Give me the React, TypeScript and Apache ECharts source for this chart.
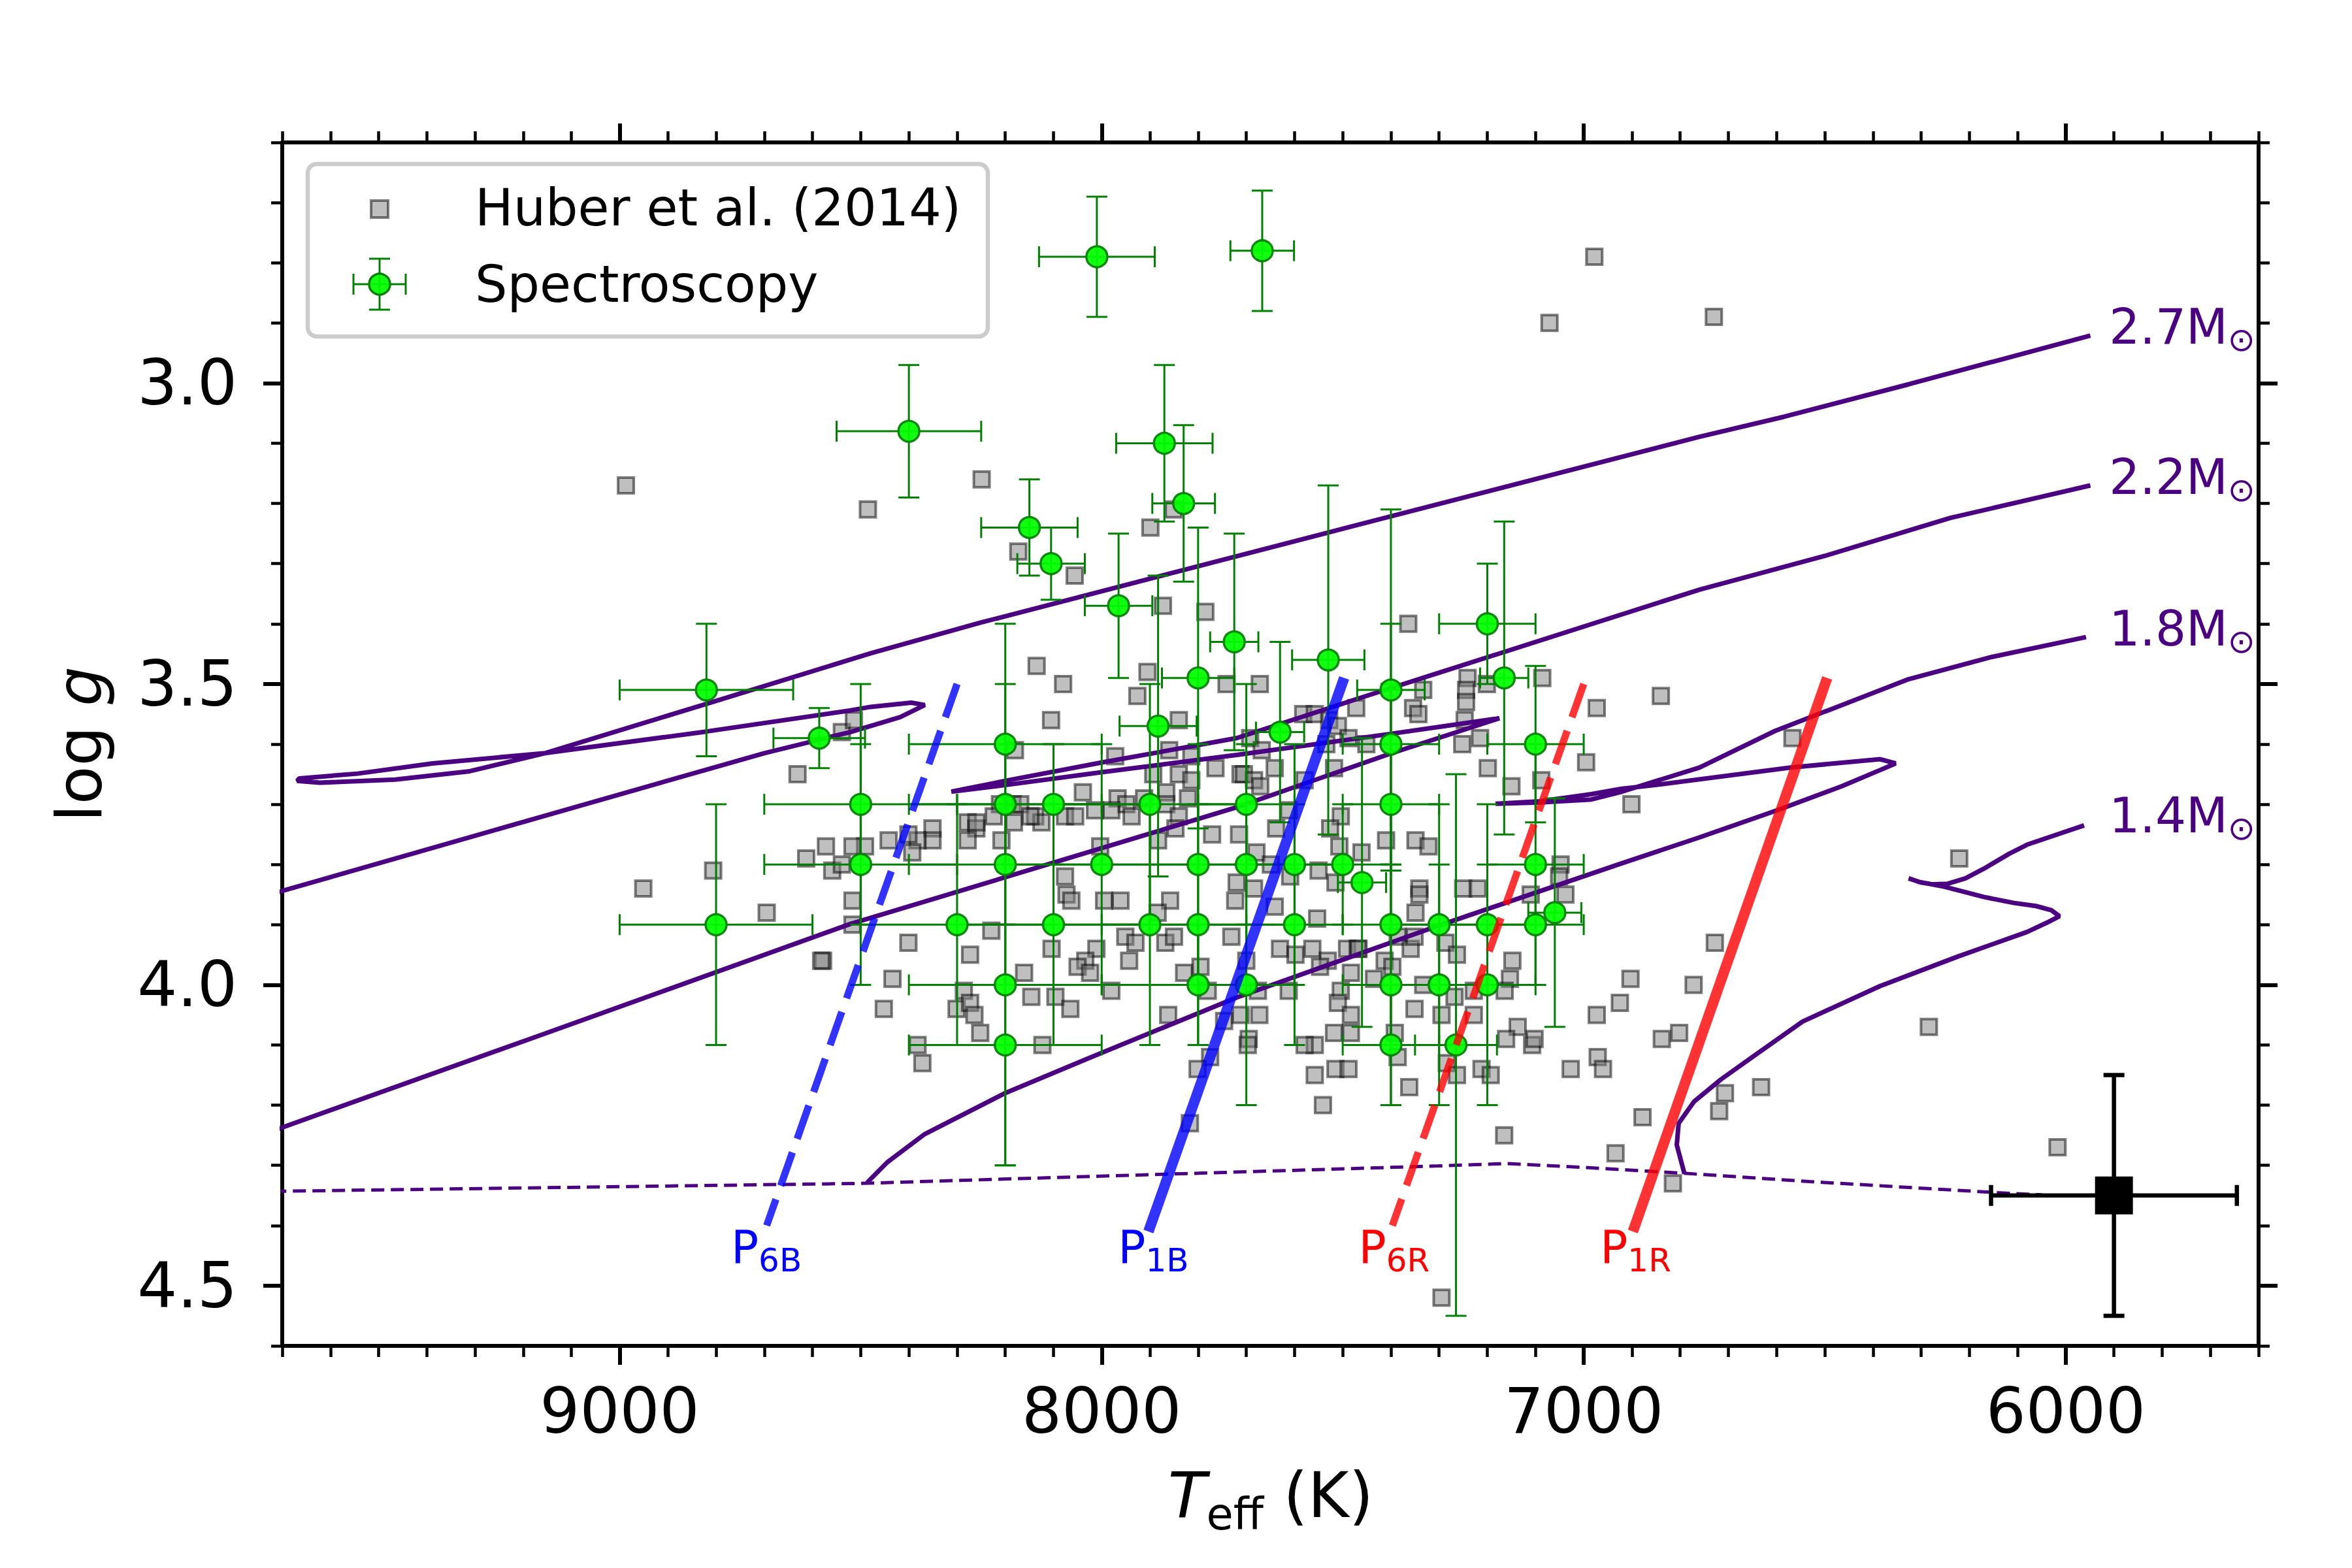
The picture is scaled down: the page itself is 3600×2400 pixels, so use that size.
import React, { useEffect, useRef } from 'react';
import * as echarts from 'echarts';

const FONT = "'DejaVu Sans', 'Liberation Sans', sans-serif";

// ---- axes ----
const TEFF_MIN = 5600;
const TEFF_MAX = 9700;
const LOGG_MIN = 2.6;
const LOGG_MAX = 4.6;
const teffMajorTicks = [6000, 7000, 8000, 9000];
const loggMajorTicks = [3.0, 3.5, 4.0, 4.5];
const teffMinorStep = 100;
const loggMinorStep = 0.1;

// ---- Huber et al. (2014): [Teff, logg] ----
const huberPoints = [
  [8987, 3.17], [8249, 3.16], [6978, 2.79], [7071, 2.90], [6730, 2.89], [8485, 3.21], [7851, 3.21], [7899, 3.24],
  [8173, 3.28], [8056, 3.32], [7873, 3.37], [7785, 3.38], [7364, 3.40],
  [8539, 3.58], [8514, 3.56], [8631, 3.65], [8613, 3.79], [8572, 3.77], [8559, 3.81], [8539, 3.80], [8806, 3.81],
  [8951, 3.84], [8695, 3.88], [8578, 3.96], [8582, 3.96],
  [8135, 3.47], [8080, 3.50], [7905, 3.48], [7926, 3.52], [8105, 3.56], [7840, 3.56], [7741, 3.50], [8180, 3.61],
  [7972, 3.62], [7860, 3.61], [7814, 3.62], [7893, 3.65], [7840, 3.65], [7764, 3.64], [7814, 3.66], [7712, 3.65],
  [8039, 3.68], [7967, 3.69], [7949, 3.70], [7912, 3.69], [7866, 3.68], [7821, 3.69], [7866, 3.70], [7840, 3.72],
  [7847, 3.74], [7883, 3.76], [7771, 3.75], [7715, 3.75], [8003, 3.77],
  [8211, 3.70], [8185, 3.70], [8169, 3.70], [8224, 3.72], [8278, 3.73], [8260, 3.74], [8278, 3.76], [8260, 3.73],
  [8182, 3.73], [8138, 3.72], [8125, 3.73], [8148, 3.72], [8076, 3.72], [8055, 3.72], [8014, 3.71], [7980, 3.71],
  [7938, 3.72], [8208, 3.76],
  [8351, 3.74], [8351, 3.76], [8382, 3.76], [8401, 3.75], [8442, 3.76], [8393, 3.78], [8491, 3.77], [8517, 3.77],
  [8076, 3.82], [8073, 3.85], [8063, 3.86], [7995, 3.86], [7961, 3.86], [7858, 3.86], [7884, 3.88], [7720, 3.83],
  [7723, 3.86], [8517, 3.86], [8517, 3.90],
  [8229, 3.91], [8401, 3.93], [8273, 3.95], [8104, 3.94], [8011, 3.94], [8034, 3.96], [8050, 3.97], [8024, 3.98],
  [7951, 3.92], [7930, 3.93], [7943, 3.96], [7868, 3.93], [7850, 3.92], [7731, 3.92],
  [8161, 3.98], [8434, 3.99], [8286, 4.01], [8146, 4.02], [8096, 4.02], [7980, 4.01], [7829, 3.98], [7795, 3.97],
  [7780, 4.01], [8452, 4.04], [8301, 4.04], [8273, 4.03], [8264, 4.05], [8065, 4.04], [7862, 4.05], [7746, 4.06],
  [7712, 4.05], [8252, 4.08], [8123, 4.10], [8382, 4.10], [8372, 4.13], [7775, 4.12], [7801, 4.14],
  [7672, 3.50], [7241, 3.49], [7201, 3.50], [7086, 3.49], [7333, 3.51], [7472, 3.54], [7354, 3.54], [7244, 3.51],
  [7244, 3.53], [7343, 3.55], [7247, 3.56], [7252, 3.60], [7215, 3.59], [7199, 3.64], [6995, 3.63], [6973, 3.54],
  [7150, 3.67], [7088, 3.66], [6901, 3.70],
  [7692, 3.59], [7668, 3.61], [7641, 3.64], [7705, 3.65], [7684, 3.66], [7671, 3.67], [7579, 3.66], [7582, 3.55],
  [7558, 3.55], [7528, 3.56], [7510, 3.57], [7488, 3.59], [7534, 3.60], [7451, 3.60], [7518, 3.64],
  [7504, 3.72], [7612, 3.71], [7638, 3.74], [7526, 3.74], [7507, 3.77], [7461, 3.78], [7410, 3.76], [7349, 3.76],
  [7322, 3.77], [7679, 3.78], [7649, 3.80], [7684, 3.84], [7641, 3.87], [7609, 3.82], [7550, 3.81], [7515, 3.83],
  [7341, 3.84], [7341, 3.85], [7349, 3.88], [7250, 3.84], [7220, 3.84], [7048, 3.80], [7051, 3.82], [7038, 3.85],
  [7110, 3.85], [7553, 3.89],
  [7630, 3.94], [7598, 3.95], [7563, 3.94], [7491, 3.94], [7469, 3.94], [7531, 3.96], [7547, 3.97], [7467, 3.94],
  [7386, 3.92], [7359, 3.94], [7351, 3.92], [7413, 3.96], [7397, 3.97], [7435, 3.99], [7483, 3.98], [7504, 4.01],
  [7510, 4.03], [7612, 4.01], [7676, 4.01], [7700, 3.96],
  [7673, 4.05], [7695, 4.09], [7697, 4.10], [7483, 4.05], [7518, 4.08], [7483, 4.08], [7558, 4.10], [7579, 4.10],
  [7351, 4.04], [7333, 4.00], [7295, 4.05], [7287, 3.93], [7263, 3.95], [7148, 3.96], [7153, 3.99], [7164, 4.01],
  [7228, 4.01], [7268, 4.02], [7228, 4.05], [7137, 4.07], [7161, 4.09], [7107, 4.10], [7102, 4.09], [6973, 4.05],
  [6925, 4.03], [6903, 3.99], [6971, 4.12], [7027, 4.14], [6960, 4.14], [7392, 4.08], [7386, 4.12], [7515, 4.14],
  [7488, 4.14], [7558, 4.15], [7212, 4.14], [7193, 4.15], [7284, 4.13], [7263, 4.15],
  [6840, 3.52], [6567, 3.59], [6221, 3.79], [6728, 3.93], [6772, 4.00], [6838, 4.09], [6802, 4.08], [6284, 4.07],
  [7817, 4.23], [7541, 4.20], [7362, 4.17],
  [7165, 4.25], [6878, 4.22], [6934, 4.28], [6815, 4.33], [6707, 4.18], [6719, 4.21], [6632, 4.17], [7295, 4.52],
  [6017, 4.27],
];

// ---- Spectroscopy ----
const specTeff = [8010, 7667, 8400, 7870, 7830, 8150, 8105, 7965, 7725, 7530, 7800, 7165, 7400, 7200, 8820, 8586, 7883, 7630, 8200, 7400,
  7100, 8500, 8200, 8100, 7900, 7700, 7400, 8500, 8200, 8000, 7800, 7700, 7600, 7500, 7460, 7100, 8800, 8300, 8100, 7900,
  7800, 7600, 7400, 7300, 7200, 7100, 7060, 8200, 7800, 7700, 7400, 7300, 7200, 8200, 7400, 7265];
const specLogg = [2.79, 2.78, 3.08, 3.10, 3.20, 3.24, 3.30, 3.37, 3.43, 3.46, 3.49, 3.49, 3.51, 3.40, 3.51, 3.59, 3.57, 3.58, 3.60, 3.60,
  3.60, 3.70, 3.70, 3.70, 3.70, 3.70, 3.70, 3.80, 3.80, 3.80, 3.80, 3.80, 3.80, 3.80, 3.83, 3.80, 3.90, 3.90, 3.90, 3.90,
  3.90, 3.90, 3.90, 3.90, 3.90, 3.90, 3.88, 4.00, 4.00, 4.00, 4.00, 4.00, 4.00, 4.10, 4.10, 4.10];
const specTeffErr = [120, 66, 150, 100, 65, 100, 70, 70, 50, 75, 75, 50, 70, 100, 180, 95, 80, 50, 200, 100,
  100, 200, 200, 200, 200, 100, 100, 200, 200, 200, 200, 100, 100, 100, 50, 100, 200, 200, 200, 200,
  200, 100, 100, 100, 100, 100, 55, 200, 200, 100, 100, 100, 100, 200, 100, 85];
const specLoggErr = [0.10, 0.10, 0.11, 0.13, 0.13, 0.08, 0.06, 0.12, 0.18, 0.29, 0.25, 0.26, 0.30, 0.10, 0.11, 0.05, 0.25, 0.15, 0.20, 0.20,
  0.13, 0.20, 0.20, 0.10, 0.20, 0.20, 0.20, 0.20, 0.20, 0.20, 0.20, 0.20, 0.20, 0.10, 0.24, 0.20, 0.20, 0.20, 0.20, 0.20,
  0.20, 0.20, 0.20, 0.20, 0.20, 0.10, 0.19, 0.30, 0.10, 0.20, 0.20, 0.20, 0.20, 0.20, 0.10, 0.45];

// ---- evolutionary tracks [Teff, logg] ----
const track27 = [
  [9800, 3.870], [9700, 3.844], [9155, 3.719], [8700, 3.615], [8522, 3.580], [8418, 3.555], [8367, 3.535],
  [8395, 3.531], [8479, 3.538], [8522, 3.544], [8820, 3.579], [9155, 3.615], [9388, 3.632], [9544, 3.649],
  [9665, 3.657], [9669, 3.661], [9622, 3.664], [9466, 3.659], [9311, 3.645], [9155, 3.615], [8820, 3.533],
  [8479, 3.449], [8251, 3.398], [7490, 3.240], [6759, 3.089], [6585, 3.056], [6326, 3.002], [5949, 2.921],
];
const track22 = [
  [9800, 4.266], [9700, 4.237], [9155, 4.081], [8522, 3.899], [8100, 3.797], [7720, 3.705], [7402, 3.616], [7175, 3.557],
  [7402, 3.583], [7720, 3.618], [8003, 3.647], [8200, 3.668], [8312, 3.679],
  [8200, 3.661], [8003, 3.631], [7720, 3.590], [7467, 3.524], [7299, 3.481], [6759, 3.343], [6499, 3.287],
  [6239, 3.224], [5949, 3.170],
];
const track18 = [
  [8487, 4.329], [8445, 4.295], [8367, 4.248], [8203, 4.181], [8024, 4.121], [7720, 4.021], [7306, 3.903],
  [6921, 3.798], [6760, 3.755], [6599, 3.710], [6465, 3.670], [6385, 3.643], [6353, 3.632],
  [6385, 3.625], [6573, 3.639], [6852, 3.668], [6921, 3.674], [6984, 3.683], [7091, 3.695], [7183, 3.699],
  [7091, 3.697], [6984, 3.692], [6921, 3.679], [6760, 3.639], [6603, 3.578], [6326, 3.492], [6153, 3.455], [5958, 3.422],
];
const track14 = [
  [6791, 4.314], [6807, 4.266], [6803, 4.230], [6771, 4.194], [6715, 4.157], [6652, 4.121], [6546, 4.061],
  [6385, 4.002], [6224, 3.953], [6080, 3.912], [6040, 3.897], [6013, 3.886],
  [6030, 3.876], [6062, 3.869], [6107, 3.864], [6170, 3.854], [6251, 3.837], [6304, 3.829], [6326, 3.823],
  [6300, 3.830], [6277, 3.833], [6245, 3.832], [6208, 3.823], [6170, 3.807], [6117, 3.782], [6080, 3.767], [5962, 3.735],
];
const zams = [
  [9800, 4.344], [9700, 4.343], [8500, 4.330], [7301, 4.301], [7161, 4.297], [7010, 4.303], [6795, 4.313],
  [6532, 4.327], [6150, 4.345], [6050, 4.349],
];

// ---- instability strip edges ----
const p6B = [[8300, 3.50], [8695, 4.40]];
const p1B = [[7497, 3.49], [7903, 4.41]];
const p6R = [[7000, 3.50], [7397, 4.40]];
const p1R = [[6495, 3.49], [6898, 4.41]];

// ---- labels ----
const massLabelText = ['2.7', '2.2', '1.8', '1.4'];
const massLabelTeff = [5910, 5910, 5910, 5910];
const massLabelLogg = [2.911, 3.160, 3.412, 3.723];

const stripLabelSub = ['6B', '1B', '6R', '1R'];
const stripLabelTeff = [8769, 7966, 7467, 6966];
const stripLabelLogg = [4.442, 4.442, 4.442, 4.442];
const stripLabelColor = ['#0000ff', '#0000ff', '#ff0000', '#ff0000'];

// ---- typical error ----
const typTeff = [5900];
const typLogg = [4.35];
const typTeffErr = [255];
const typLoggErr = [0.2];

function errorBarRenderer(color: string, lw: number, cap: number) {
  return (params: any, api: any) => {
    const x = api.value(0), y = api.value(1), ex = api.value(2), ey = api.value(3);
    const pL = api.coord([x + ex, y]);
    const pR = api.coord([x - ex, y]);
    const pT = api.coord([x, y - ey]);
    const pB = api.coord([x, y + ey]);
    const style = { stroke: color, lineWidth: lw, fill: null, opacity: 1 };
    const seg = (x1: number, y1: number, x2: number, y2: number) => ({ type: 'line', shape: { x1, y1, x2, y2 }, style });
    return {
      type: 'group',
      children: [
        seg(pL[0], pL[1], pR[0], pR[1]),
        seg(pT[0], pT[1], pB[0], pB[1]),
        seg(pL[0], pL[1] - cap, pL[0], pL[1] + cap),
        seg(pR[0], pR[1] - cap, pR[0], pR[1] + cap),
        seg(pT[0] - cap, pT[1], pT[0] + cap, pT[1]),
        seg(pB[0] - cap, pB[1], pB[0] + cap, pB[1]),
      ],
    };
  };
}

function buildOption() {
  const xBase = { type: 'value', min: TEFF_MIN, max: TEFF_MAX, inverse: true, splitLine: { show: false } };
  const yBase = { type: 'value', min: LOGG_MIN, max: LOGG_MAX, inverse: true, splitLine: { show: false } };
  const spine = { show: true, onZero: false, lineStyle: { color: '#000', width: 6 } };
  const majorTick = (vals: number[]) => ({ show: true, inside: false, length: 29, lineStyle: { color: '#000', width: 6 }, customValues: vals });
  const minorTick = { show: true, inside: false, length: 17, lineStyle: { color: '#000', width: 4.5 } };

  const xAxis = [
    { ...xBase, position: 'bottom', axisLine: spine, axisTick: majorTick(teffMajorTicks),
      axisLabel: { show: true, customValues: teffMajorTicks, fontSize: 96, fontFamily: FONT, color: '#000', margin: 52, formatter: (v: number) => String(v) } },
    { ...xBase, position: 'bottom', interval: teffMinorStep, axisLine: { show: false }, axisTick: minorTick, axisLabel: { show: false } },
    { ...xBase, position: 'top', axisLine: spine, axisTick: majorTick(teffMajorTicks), axisLabel: { show: false } },
    { ...xBase, position: 'top', interval: teffMinorStep, axisLine: { show: false }, axisTick: minorTick, axisLabel: { show: false } },
  ];
  const yAxis = [
    { ...yBase, position: 'left', axisLine: spine, axisTick: majorTick(loggMajorTicks),
      axisLabel: { show: true, customValues: loggMajorTicks, fontSize: 96, fontFamily: FONT, color: '#000', margin: 69, formatter: (v: number) => v.toFixed(1) } },
    { ...yBase, position: 'left', interval: loggMinorStep, axisLine: { show: false }, axisTick: minorTick, axisLabel: { show: false } },
    { ...yBase, position: 'right', axisLine: spine, axisTick: majorTick(loggMajorTicks), axisLabel: { show: false } },
    { ...yBase, position: 'right', interval: loggMinorStep, axisLine: { show: false }, axisTick: minorTick, axisLabel: { show: false } },
  ];

  const trackColor = '#4b0082';
  const trackSeries = [track27, track22, track18, track14].map((t) => ({
    type: 'line', data: t, showSymbol: false, symbol: 'none', clip: true, z: 2, silent: true,
    lineStyle: { color: trackColor, width: 7, opacity: 1 },
  }));
  const zamsSeries = {
    type: 'line', data: zams, showSymbol: false, symbol: 'none', clip: true, z: 2, silent: true,
    lineStyle: { color: trackColor, width: 5, type: [20, 10], opacity: 1 },
  };

  const stripLine = (d: number[][], color: string, dashed: boolean) => ({
    type: 'line', data: d, showSymbol: false, symbol: 'none', clip: true, z: 5, silent: true,
    lineStyle: { color, width: dashed ? 11 : 16, type: dashed ? [54, 22] : 'solid', cap: 'butt', opacity: 1 },
  });

  const specData = specTeff.map((t, i) => [t, specLogg[i], specTeffErr[i], specLoggErr[i]]);
  const typData = typTeff.map((t, i) => [t, typLogg[i], typTeffErr[i], typLoggErr[i]]);

  const massData = massLabelText.map((m, i) => ({ value: [massLabelTeff[i], massLabelLogg[i]], name: m }));
  const stripData = stripLabelSub.map((s, i) => ({
    value: [stripLabelTeff[i], stripLabelLogg[i]], name: s,
    label: {
      rich: {
        p: { fontSize: 70, fontFamily: FONT, color: stripLabelColor[i], opacity: 1, verticalAlign: 'bottom', padding: [0, 0, 10, 0] },
        s: { fontSize: 50, fontFamily: FONT, color: stripLabelColor[i], opacity: 1, verticalAlign: 'bottom' },
      },
    },
  }));

  const series: any[] = [
    {
      type: 'scatter', data: huberPoints, symbol: 'rect', symbolSize: 24, z: 1, silent: true,
      itemStyle: { color: '#808080', borderColor: '#000000', borderWidth: 4, opacity: 0.5 },
    },
    ...trackSeries,
    zamsSeries,
    {
      type: 'custom', data: specData, dimensions: ['teff', 'logg', 'ex', 'ey'], encode: { x: 0, y: 1 },
      renderItem: errorBarRenderer('#008000', 3, 16), clip: true, z: 3, silent: true,
    },
    {
      type: 'scatter', data: specData.map((d) => [d[0], d[1]]), symbol: 'circle', symbolSize: 32, z: 4, silent: true,
      itemStyle: { color: '#00ff00', borderColor: '#008000', borderWidth: 3.5, opacity: 0.93 },
    },
    stripLine(p6B, 'rgba(0,0,255,0.8)', true),
    stripLine(p1B, 'rgba(0,0,255,0.8)', false),
    stripLine(p6R, 'rgba(255,0,0,0.8)', true),
    stripLine(p1R, 'rgba(255,0,0,0.8)', false),
    {
      type: 'custom', data: typData, dimensions: ['teff', 'logg', 'ex', 'ey'], encode: { x: 0, y: 1 },
      renderItem: errorBarRenderer('#000000', 6.5, 16), clip: true, z: 6, silent: true,
    },
    {
      type: 'scatter', data: typData.map((d) => [d[0], d[1]]), symbol: 'rect', symbolSize: 58, z: 6, silent: true,
      itemStyle: { color: '#000000', opacity: 1 },
    },
    {
      type: 'scatter', data: massData, symbolSize: 0, z: 7, silent: true, itemStyle: { color: '#000', opacity: 1 },
      label: {
        show: true, position: 'right', distance: 0, opacity: 1,
        formatter: (p: any) => `{t|${p.name}M}{s|⊙}`,
        rich: {
          t: { fontSize: 74, fontFamily: FONT, color: trackColor, opacity: 1, verticalAlign: 'bottom', padding: [0, 0, 8, 0] },
          s: { fontSize: 50, fontFamily: FONT, color: trackColor, opacity: 1, verticalAlign: 'bottom' },
        },
      },
    },
    {
      type: 'scatter', data: stripData, symbolSize: 0, z: 7, silent: true, itemStyle: { color: '#000', opacity: 1 },
      label: { show: true, position: 'right', distance: 0, opacity: 1, formatter: (p: any) => `{p|P}{s|${p.name}}` },
    },
  ];

  const legendItems: any[] = [
    { type: 'rect', shape: { x: 471, y: 251, width: 1041, height: 264, r: 14 }, style: { fill: 'rgba(255,255,255,0.85)', stroke: '#cccccc', lineWidth: 6.5 }, z: 100 },
    { type: 'rect', shape: { x: 568, y: 307, width: 26, height: 26 }, style: { fill: 'rgba(128,128,128,0.5)', stroke: 'rgba(0,0,0,0.5)', lineWidth: 4 }, z: 101 },
    { type: 'text', x: 727, y: 318, style: { text: 'Huber et al. (2014)', fontSize: 78, fontFamily: FONT, fill: '#000', align: 'left', verticalAlign: 'middle' }, z: 101 },
    { type: 'line', shape: { x1: 541, y1: 435, x2: 621, y2: 435 }, style: { stroke: '#008000', lineWidth: 3 }, z: 101 },
    { type: 'line', shape: { x1: 581, y1: 396, x2: 581, y2: 474 }, style: { stroke: '#008000', lineWidth: 3 }, z: 101 },
    { type: 'line', shape: { x1: 541, y1: 419, x2: 541, y2: 451 }, style: { stroke: '#008000', lineWidth: 3 }, z: 101 },
    { type: 'line', shape: { x1: 621, y1: 419, x2: 621, y2: 451 }, style: { stroke: '#008000', lineWidth: 3 }, z: 101 },
    { type: 'line', shape: { x1: 565, y1: 396, x2: 597, y2: 396 }, style: { stroke: '#008000', lineWidth: 3 }, z: 101 },
    { type: 'line', shape: { x1: 565, y1: 474, x2: 597, y2: 474 }, style: { stroke: '#008000', lineWidth: 3 }, z: 101 },
    { type: 'circle', shape: { cx: 581, cy: 435, r: 16 }, style: { fill: 'rgba(0,255,0,0.93)', stroke: '#008000', lineWidth: 3.5 }, z: 102 },
    { type: 'text', x: 727, y: 435, style: { text: 'Spectroscopy', fontSize: 78, fontFamily: FONT, fill: '#000', align: 'left', verticalAlign: 'middle' }, z: 101 },
  ];

  const axisNames: any[] = [
    {
      type: 'text', x: 122, y: 1139, rotation: Math.PI / 2, z: 50,
      style: {
        text: '{n|log }{i|g}', align: 'center', verticalAlign: 'middle',
        rich: {
          n: { fontSize: 96, fontFamily: FONT, fill: '#000', color: '#000' },
          i: { fontSize: 96, fontFamily: FONT, fontStyle: 'italic', fill: '#000', color: '#000' },
        },
      },
    },
    {
      type: 'text', x: 1945, y: 2296, z: 50,
      style: {
        text: '{t|T}{s|eff}{n| (K)}', align: 'center', verticalAlign: 'middle',
        rich: {
          t: { fontSize: 96, fontFamily: FONT, fontStyle: 'italic', fill: '#000', color: '#000', verticalAlign: 'bottom', padding: [0, 0, 14, 0] },
          s: { fontSize: 67, fontFamily: FONT, fill: '#000', color: '#000', verticalAlign: 'bottom' },
          n: { fontSize: 96, fontFamily: FONT, fill: '#000', color: '#000', verticalAlign: 'bottom', padding: [0, 0, 14, 0] },
        },
      },
    },
  ];

  return {
    animation: false,
    backgroundColor: '#ffffff',
    textStyle: { fontFamily: FONT },
    grid: { left: 432, right: 143, top: 218, bottom: 340, containLabel: false, outerBoundsMode: 'none', show: false },
    xAxis,
    yAxis,
    series,
    graphic: [...legendItems, ...axisNames],
  };
}

export default function App() {
  const ref = useRef<HTMLDivElement>(null);
  useEffect(() => {
    document.body.style.margin = '0';
    const chart = echarts.init(ref.current as HTMLDivElement, undefined, { renderer: 'svg', width: 3600, height: 2400 });
    chart.setOption(buildOption() as any);
    return () => chart.dispose();
  }, []);
  return <div ref={ref} style={{ width: 3600, height: 2400, background: '#fff' }} />;
}
